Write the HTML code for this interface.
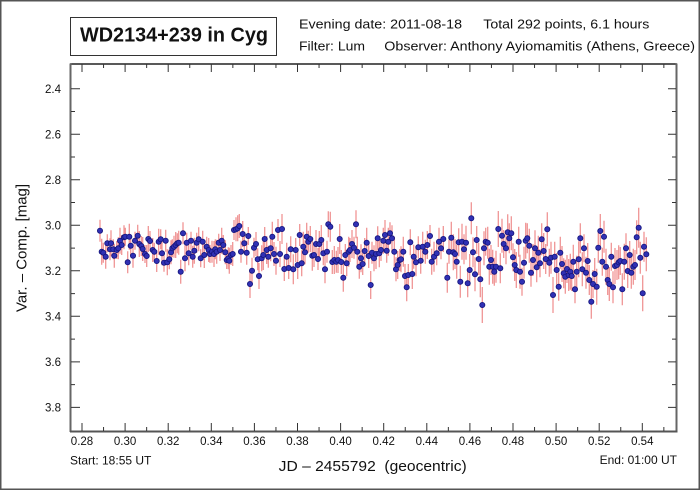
<!DOCTYPE html>
<html><head><meta charset="utf-8"><style>
html,body{margin:0;padding:0;background:#fff;}
svg{display:block;}
text{font-family:"Liberation Sans",Arial,sans-serif;fill:#111;}
</style></head><body>
<svg width="700" height="490" viewBox="0 0 700 490" xmlns="http://www.w3.org/2000/svg">
<rect x="0" y="0" width="700" height="490" fill="#fff"/>
<rect x="0.75" y="0.75" width="698.5" height="488.5" fill="none" stroke="#555" stroke-width="1.5"/>
<rect x="70.5" y="17.5" width="206" height="38" fill="none" stroke="#333" stroke-width="1"/>
<text x="80" y="41.7" font-size="20" font-weight="bold" textLength="188" lengthAdjust="spacingAndGlyphs">WD2134+239 in Cyg</text>
<text x="299" y="28.5" font-size="13" textLength="163" lengthAdjust="spacingAndGlyphs">Evening date: 2011-08-18</text>
<text x="483.3" y="28.5" font-size="13" textLength="166" lengthAdjust="spacingAndGlyphs">Total 292 points, 6.1 hours</text>
<text x="299" y="50.5" font-size="13" textLength="66" lengthAdjust="spacingAndGlyphs">Filter: Lum</text>
<text x="384.3" y="50.5" font-size="13" textLength="310.7" lengthAdjust="spacingAndGlyphs">Observer: Anthony Ayiomamitis (Athens, Greece)</text>

<path fill="none" stroke="#f09595" stroke-width="1.3" d="M100 219.7V241.7M101.7 238.7V264.7M103.3 242.7V262.7M105.7 244.7V268.7M107.3 234.3V252.3M110 238.3V260.3M111 230.3V256.3M113.3 239.3V259.3M114.3 243.7V267.7M116.7 241V259M118.3 237.3V259.3M120 227.7V253.7M121.7 235V255M124 225.3V249.3M125.3 227.7V245.7M127.7 251.3V273.3M129.3 223.7V249.7M130.7 235.7V255.7M133 243.7V267.7M135 231.7V249.7M137.7 224.7V246.7M139.3 231V257M141.3 236V256M142.7 237V261M145 245V263M146.7 245V267M148.3 226V252M150 231V251M152.7 238V262M154.3 242.7V260.7M156.7 250V272M158.7 228.7V254.7M160.7 229.3V249.3M162 241.3V265.3M164 253.7V271.7M165.7 229.7V251.7M167.3 249.3V275.3M169.3 249.3V269.3M171 240.3V264.3M172.3 239.3V257.3M174 235.7V257.7M175.7 232V258M177.3 233.3V253.3M178.7 230.7V254.7M180.7 259.7V283.7M183 222.3V244.3M185 245.3V271.3M186.7 232.7V252.7M188.7 241.3V265.3M191 231.7V249.7M192.7 245.7V267.7M194.3 237.7V263.7M196.7 232.7V252.7M198.7 227.3V251.3M200.7 249.3V267.3M202.7 230.7V252.7M204.3 242V268M206.7 236.7V256.7M208.7 238V262M210 245V263M212 240.7V262.7M214 241V267M215.3 239.3V259.3M216.7 239.7V263.7M218.7 233.7V251.7M220 239V261M221.7 227.7V253.7M223.3 235V255M225.3 240.3V264.3M226.7 251V269M228.3 247.3V269.3M229.3 247.7V273.7M231 245V265M232.7 242V266M234 220V240M236 217.3V241.3M237.7 215.3V241.3M239.3 214V238M241 240.7V262.7M242.7 221V247M244.3 233.3V253.3M246.7 240.7V264.7M248.3 227V245M250 270V298M252 257.7V283.7M254 237.7V257.7M256 232V256M257.7 248.3V270.3M259 263V289
M261.7 245.3V271.3M263.3 240V270M264.7 227V251M266.7 236V264M268.3 245.7V267.7M270.7 235.3V261.3M272.3 221.7V251.7M274 242V266M276 246.7V274.7M278 219V241M280 241V267M282 214V244M284.3 257V281M286.7 242.7V270.7M288.7 257V279M290.7 236.3V262.3M293.3 254.3V284.3M295.7 238V262M297.7 251V279M299.7 224V246M301.7 250.3V276.3M303.3 231.7V261.7M305 240.3V264.3M306.7 222.7V250.7M308.3 230.7V252.7M310.3 226V252M312.3 240.7V270.7M314 243V267M316 230V258M318 248V270M319.3 231V257M321.3 225V255M323.3 241.3V265.3M325 255.3V283.3M327 240.7V262.7M328.3 211.3V237.3M330.3 211.7V241.7M332.3 250V274M334.3 246V274M336.3 250.7V272.7M338 247V273M339.7 224V254M341.3 250V274M343.3 263.7V291.7M345.3 244V266M346.7 250.3V276.3M348.7 236.7V266.7M350 238V262M352 230V258M354 236.7V258.7M356 210.3V238.3M357.3 236.7V266.7M359.3 254.7V278.7M361 244.3V272.3M362.7 253V275M364.7 238V264M366.7 227.7V257.7M368.7 244V268M370.7 271V299M372 241.7V263.7M374 245.3V271.3M376 239V269M377.7 226.3V250.3M379.3 239.3V267.3M381 239V261M383.3 227.7V253.7M385 220V250M386.7 238.7V262.7M388.3 227.7V255.7M390 222.3V244.3M392 225.3V251.3M394.3 236.7V266.7M396 257.3V281.3M397.7 251V279M399.7 249V271M401 246.3V272.3M403.3 236.7V266.7M405 264V288M406.7 273.3V301.3M408.3 264V286M410.3 229.3V255.3M412.3 259V289M413.7 244.7V268.7M416 248.3V276.3M418.3 236.3V258.3M420.7 247.7V273.7M422.7 231.7V261.7M425.3 239.7V263.7M427.3 231V259M430 225V247M431.7 248.7V274.7M434 241.7V271.7M436.7 241.3V265.3M439 227.7V255.7M441 237.3V259.3M443.3 226V252M447.3 262.7V292.7M449 239.7V263.7
M451.3 221.7V253.7M453.3 234.3V270.3M455 239V269M456.7 244.7V278.7M458.7 228.3V256.3M460.3 265.7V297.7M462 223.7V259.7M464 234.3V264.3M466 225.7V259.7M467.7 269.3V297.3M469.7 254V286M471.3 202.3V234.3M473 237.3V267.3M475 257.3V291.3M476.7 226V254M478.7 243V275M480.3 261.3V297.3M482.3 287V323M484 231.3V265.3M485.7 227.7V255.7M487.7 226.7V258.7M489.3 248.7V284.7M491 245V275M492.7 249.7V283.7M494.3 257.7V285.7M496 250.7V282.7M498.3 211V247M500.3 253.3V283.3M502 218.7V252.7M503.7 230V258M506 232.3V264.3M507.7 214.3V250.3M509.3 223.3V253.3M511.3 216.3V250.3M513 243.3V271.3M514.7 249V281M516.3 252V288M518.7 226.7V256.7M520 254.7V288.7M522 267.7V295.7M524 246.7V278.7M525.7 222.7V258.7M527.3 223.3V253.3M529.3 228.7V262.7M531 258.7V286.7M533 244V276M535 230.3V266.3M536.7 252.3V282.3M538.3 235.7V269.7M540 249.3V277.3M541.7 223.3V255.3M543.7 233V269M545.7 244V274M547.3 212.3V246.3M549.3 248.7V276.7M551 241.7V273.7M553 277V313M554.7 241.7V271.7M556.7 253V287M558.7 272.7V300.7M560.3 236.7V268.7M562 246V282M563.7 258.3V288.3M565.3 259.7V293.7M567 255V283M568.7 259V291M570.3 253.7V289.7M571.7 261V291M573.3 244.7V278.7M575 275.3V303.3M576.7 255.7V287.7M578.7 241.3V277.3M580.3 223.3V253.3M582.3 252.3V286.3M584 234.3V262.3M586 256.7V288.7M587.7 243V279M589.3 265V295M591.3 284.7V318.7M593 270V298M594.7 258V290M596.7 268.7V304.7M598.3 232.7V262.7M600.3 214V248M602.3 247.7V275.7M604 220.7V252.7M606 248.7V284.7M607.7 265V295M609.3 267V301M611.3 242.7V270.7M613 271.3V303.3M615 248V284M617 250V280M618.7 245.3V279.3M620.3 247V275M622.3 273.3V305.3M624.3 243.7V279.7M626 233.3V263.3M627.7 254V288M629.7 241V269M631.3 256.7V288.7M633.3 248.7V284.7M635 250V280M636.7 220.3V254.3M638.7 207.7V247.7M640.3 241.7V273.7M642.7 275.3V311.3M644 231.7V261.7M646.3 237.3V271.3"/>

<g fill="#3030b4" stroke="#14147a" stroke-width="0.8">
<circle cx="100" cy="230.7" r="2.6"/><circle cx="101.7" cy="251.7" r="2.6"/><circle cx="103.3" cy="252.7" r="2.6"/><circle cx="105.7" cy="256.7" r="2.6"/><circle cx="107.3" cy="243.3" r="2.6"/><circle cx="110" cy="249.3" r="2.6"/><circle cx="111" cy="243.3" r="2.6"/><circle cx="113.3" cy="249.3" r="2.6"/><circle cx="114.3" cy="255.7" r="2.6"/><circle cx="116.7" cy="250" r="2.6"/><circle cx="118.3" cy="248.3" r="2.6"/><circle cx="120" cy="240.7" r="2.6"/><circle cx="121.7" cy="245" r="2.6"/><circle cx="124" cy="237.3" r="2.6"/><circle cx="125.3" cy="236.7" r="2.6"/><circle cx="127.7" cy="262.3" r="2.6"/><circle cx="129.3" cy="236.7" r="2.6"/><circle cx="130.7" cy="245.7" r="2.6"/><circle cx="133" cy="255.7" r="2.6"/><circle cx="135" cy="240.7" r="2.6"/><circle cx="137.7" cy="235.7" r="2.6"/><circle cx="139.3" cy="244" r="2.6"/><circle cx="141.3" cy="246" r="2.6"/><circle cx="142.7" cy="249" r="2.6"/><circle cx="145" cy="254" r="2.6"/><circle cx="146.7" cy="256" r="2.6"/><circle cx="148.3" cy="239" r="2.6"/><circle cx="150" cy="241" r="2.6"/><circle cx="152.7" cy="250" r="2.6"/><circle cx="154.3" cy="251.7" r="2.6"/><circle cx="156.7" cy="261" r="2.6"/><circle cx="158.7" cy="241.7" r="2.6"/><circle cx="160.7" cy="239.3" r="2.6"/><circle cx="162" cy="253.3" r="2.6"/><circle cx="164" cy="262.7" r="2.6"/><circle cx="165.7" cy="240.7" r="2.6"/><circle cx="167.3" cy="262.3" r="2.6"/><circle cx="169.3" cy="259.3" r="2.6"/><circle cx="171" cy="252.3" r="2.6"/><circle cx="172.3" cy="248.3" r="2.6"/><circle cx="174" cy="246.7" r="2.6"/><circle cx="175.7" cy="245" r="2.6"/><circle cx="177.3" cy="243.3" r="2.6"/><circle cx="178.7" cy="242.7" r="2.6"/><circle cx="180.7" cy="271.7" r="2.6"/><circle cx="183" cy="233.3" r="2.6"/><circle cx="185" cy="258.3" r="2.6"/><circle cx="186.7" cy="242.7" r="2.6"/><circle cx="188.7" cy="253.3" r="2.6"/><circle cx="191" cy="240.7" r="2.6"/><circle cx="192.7" cy="256.7" r="2.6"/><circle cx="194.3" cy="250.7" r="2.6"/><circle cx="196.7" cy="242.7" r="2.6"/><circle cx="198.7" cy="239.3" r="2.6"/><circle cx="200.7" cy="258.3" r="2.6"/><circle cx="202.7" cy="241.7" r="2.6"/><circle cx="204.3" cy="255" r="2.6"/><circle cx="206.7" cy="246.7" r="2.6"/><circle cx="208.7" cy="250" r="2.6"/><circle cx="210" cy="254" r="2.6"/><circle cx="212" cy="251.7" r="2.6"/><circle cx="214" cy="254" r="2.6"/><circle cx="215.3" cy="249.3" r="2.6"/><circle cx="216.7" cy="251.7" r="2.6"/><circle cx="218.7" cy="242.7" r="2.6"/><circle cx="220" cy="250" r="2.6"/><circle cx="221.7" cy="240.7" r="2.6"/><circle cx="223.3" cy="245" r="2.6"/><circle cx="225.3" cy="252.3" r="2.6"/><circle cx="226.7" cy="260" r="2.6"/><circle cx="228.3" cy="258.3" r="2.6"/><circle cx="229.3" cy="260.7" r="2.6"/><circle cx="231" cy="255" r="2.6"/><circle cx="232.7" cy="254" r="2.6"/><circle cx="234" cy="230" r="2.6"/><circle cx="236" cy="229.3" r="2.6"/><circle cx="237.7" cy="228.3" r="2.6"/><circle cx="239.3" cy="226" r="2.6"/><circle cx="241" cy="251.7" r="2.6"/><circle cx="242.7" cy="234" r="2.6"/><circle cx="244.3" cy="243.3" r="2.6"/><circle cx="246.7" cy="252.7" r="2.6"/><circle cx="248.3" cy="236" r="2.6"/><circle cx="250" cy="284" r="2.6"/><circle cx="252" cy="270.7" r="2.6"/><circle cx="254" cy="247.7" r="2.6"/><circle cx="256" cy="244" r="2.6"/><circle cx="257.7" cy="259.3" r="2.6"/><circle cx="259" cy="276" r="2.6"/>
<circle cx="261.7" cy="258.3" r="2.6"/><circle cx="263.3" cy="255" r="2.6"/><circle cx="264.7" cy="239" r="2.6"/><circle cx="266.7" cy="250" r="2.6"/><circle cx="268.3" cy="256.7" r="2.6"/><circle cx="270.7" cy="248.3" r="2.6"/><circle cx="272.3" cy="236.7" r="2.6"/><circle cx="274" cy="254" r="2.6"/><circle cx="276" cy="260.7" r="2.6"/><circle cx="278" cy="230" r="2.6"/><circle cx="280" cy="254" r="2.6"/><circle cx="282" cy="229" r="2.6"/><circle cx="284.3" cy="269" r="2.6"/><circle cx="286.7" cy="256.7" r="2.6"/><circle cx="288.7" cy="268" r="2.6"/><circle cx="290.7" cy="249.3" r="2.6"/><circle cx="293.3" cy="269.3" r="2.6"/><circle cx="295.7" cy="250" r="2.6"/><circle cx="297.7" cy="265" r="2.6"/><circle cx="299.7" cy="235" r="2.6"/><circle cx="301.7" cy="263.3" r="2.6"/><circle cx="303.3" cy="246.7" r="2.6"/><circle cx="305" cy="252.3" r="2.6"/><circle cx="306.7" cy="236.7" r="2.6"/><circle cx="308.3" cy="241.7" r="2.6"/><circle cx="310.3" cy="239" r="2.6"/><circle cx="312.3" cy="255.7" r="2.6"/><circle cx="314" cy="255" r="2.6"/><circle cx="316" cy="244" r="2.6"/><circle cx="318" cy="259" r="2.6"/><circle cx="319.3" cy="244" r="2.6"/><circle cx="321.3" cy="240" r="2.6"/><circle cx="323.3" cy="253.3" r="2.6"/><circle cx="325" cy="269.3" r="2.6"/><circle cx="327" cy="251.7" r="2.6"/><circle cx="328.3" cy="224.3" r="2.6"/><circle cx="330.3" cy="226.7" r="2.6"/><circle cx="332.3" cy="262" r="2.6"/><circle cx="334.3" cy="260" r="2.6"/><circle cx="336.3" cy="261.7" r="2.6"/><circle cx="338" cy="260" r="2.6"/><circle cx="339.7" cy="239" r="2.6"/><circle cx="341.3" cy="262" r="2.6"/><circle cx="343.3" cy="277.7" r="2.6"/><circle cx="345.3" cy="255" r="2.6"/><circle cx="346.7" cy="263.3" r="2.6"/><circle cx="348.7" cy="251.7" r="2.6"/><circle cx="350" cy="250" r="2.6"/><circle cx="352" cy="244" r="2.6"/><circle cx="354" cy="247.7" r="2.6"/><circle cx="356" cy="224.3" r="2.6"/><circle cx="357.3" cy="251.7" r="2.6"/><circle cx="359.3" cy="266.7" r="2.6"/><circle cx="361" cy="258.3" r="2.6"/><circle cx="362.7" cy="264" r="2.6"/><circle cx="364.7" cy="251" r="2.6"/><circle cx="366.7" cy="242.7" r="2.6"/><circle cx="368.7" cy="256" r="2.6"/><circle cx="370.7" cy="285" r="2.6"/><circle cx="372" cy="252.7" r="2.6"/><circle cx="374" cy="258.3" r="2.6"/><circle cx="376" cy="254" r="2.6"/><circle cx="377.7" cy="238.3" r="2.6"/><circle cx="379.3" cy="253.3" r="2.6"/><circle cx="381" cy="250" r="2.6"/><circle cx="383.3" cy="240.7" r="2.6"/><circle cx="385" cy="235" r="2.6"/><circle cx="386.7" cy="250.7" r="2.6"/><circle cx="388.3" cy="241.7" r="2.6"/><circle cx="390" cy="233.3" r="2.6"/><circle cx="392" cy="238.3" r="2.6"/><circle cx="394.3" cy="251.7" r="2.6"/><circle cx="396" cy="269.3" r="2.6"/><circle cx="397.7" cy="265" r="2.6"/><circle cx="399.7" cy="260" r="2.6"/><circle cx="401" cy="259.3" r="2.6"/><circle cx="403.3" cy="251.7" r="2.6"/><circle cx="405" cy="276" r="2.6"/><circle cx="406.7" cy="287.3" r="2.6"/><circle cx="408.3" cy="275" r="2.6"/><circle cx="410.3" cy="242.3" r="2.6"/><circle cx="412.3" cy="274" r="2.6"/><circle cx="413.7" cy="256.7" r="2.6"/><circle cx="416" cy="262.3" r="2.6"/><circle cx="418.3" cy="247.3" r="2.6"/><circle cx="420.7" cy="260.7" r="2.6"/><circle cx="422.7" cy="246.7" r="2.6"/><circle cx="425.3" cy="251.7" r="2.6"/><circle cx="427.3" cy="245" r="2.6"/><circle cx="430" cy="236" r="2.6"/><circle cx="431.7" cy="261.7" r="2.6"/><circle cx="434" cy="256.7" r="2.6"/><circle cx="436.7" cy="253.3" r="2.6"/><circle cx="439" cy="241.7" r="2.6"/><circle cx="441" cy="248.3" r="2.6"/><circle cx="443.3" cy="239" r="2.6"/><circle cx="447.3" cy="277.7" r="2.6"/><circle cx="449" cy="251.7" r="2.6"/>
<circle cx="451.3" cy="237.7" r="2.6"/><circle cx="453.3" cy="252.3" r="2.6"/><circle cx="455" cy="254" r="2.6"/><circle cx="456.7" cy="261.7" r="2.6"/><circle cx="458.7" cy="242.3" r="2.6"/><circle cx="460.3" cy="281.7" r="2.6"/><circle cx="462" cy="241.7" r="2.6"/><circle cx="464" cy="249.3" r="2.6"/><circle cx="466" cy="242.7" r="2.6"/><circle cx="467.7" cy="283.3" r="2.6"/><circle cx="469.7" cy="270" r="2.6"/><circle cx="471.3" cy="218.3" r="2.6"/><circle cx="473" cy="252.3" r="2.6"/><circle cx="475" cy="274.3" r="2.6"/><circle cx="476.7" cy="240" r="2.6"/><circle cx="478.7" cy="259" r="2.6"/><circle cx="480.3" cy="279.3" r="2.6"/><circle cx="482.3" cy="305" r="2.6"/><circle cx="484" cy="248.3" r="2.6"/><circle cx="485.7" cy="241.7" r="2.6"/><circle cx="487.7" cy="242.7" r="2.6"/><circle cx="489.3" cy="266.7" r="2.6"/><circle cx="491" cy="260" r="2.6"/><circle cx="492.7" cy="266.7" r="2.6"/><circle cx="494.3" cy="271.7" r="2.6"/><circle cx="496" cy="266.7" r="2.6"/><circle cx="498.3" cy="229" r="2.6"/><circle cx="500.3" cy="268.3" r="2.6"/><circle cx="502" cy="235.7" r="2.6"/><circle cx="503.7" cy="244" r="2.6"/><circle cx="506" cy="248.3" r="2.6"/><circle cx="507.7" cy="232.3" r="2.6"/><circle cx="509.3" cy="238.3" r="2.6"/><circle cx="511.3" cy="233.3" r="2.6"/><circle cx="513" cy="257.3" r="2.6"/><circle cx="514.7" cy="265" r="2.6"/><circle cx="516.3" cy="270" r="2.6"/><circle cx="518.7" cy="241.7" r="2.6"/><circle cx="520" cy="271.7" r="2.6"/><circle cx="522" cy="281.7" r="2.6"/><circle cx="524" cy="262.7" r="2.6"/><circle cx="525.7" cy="240.7" r="2.6"/><circle cx="527.3" cy="238.3" r="2.6"/><circle cx="529.3" cy="245.7" r="2.6"/><circle cx="531" cy="272.7" r="2.6"/><circle cx="533" cy="260" r="2.6"/><circle cx="535" cy="248.3" r="2.6"/><circle cx="536.7" cy="267.3" r="2.6"/><circle cx="538.3" cy="252.7" r="2.6"/><circle cx="540" cy="263.3" r="2.6"/><circle cx="541.7" cy="239.3" r="2.6"/><circle cx="543.7" cy="251" r="2.6"/><circle cx="545.7" cy="259" r="2.6"/><circle cx="547.3" cy="229.3" r="2.6"/><circle cx="549.3" cy="262.7" r="2.6"/><circle cx="551" cy="257.7" r="2.6"/><circle cx="553" cy="295" r="2.6"/><circle cx="554.7" cy="256.7" r="2.6"/><circle cx="556.7" cy="270" r="2.6"/><circle cx="558.7" cy="286.7" r="2.6"/><circle cx="560.3" cy="252.7" r="2.6"/><circle cx="562" cy="264" r="2.6"/><circle cx="563.7" cy="273.3" r="2.6"/><circle cx="565.3" cy="276.7" r="2.6"/><circle cx="567" cy="269" r="2.6"/><circle cx="568.7" cy="275" r="2.6"/><circle cx="570.3" cy="271.7" r="2.6"/><circle cx="571.7" cy="276" r="2.6"/><circle cx="573.3" cy="261.7" r="2.6"/><circle cx="575" cy="289.3" r="2.6"/><circle cx="576.7" cy="271.7" r="2.6"/><circle cx="578.7" cy="259.3" r="2.6"/><circle cx="580.3" cy="238.3" r="2.6"/><circle cx="582.3" cy="269.3" r="2.6"/><circle cx="584" cy="248.3" r="2.6"/><circle cx="586" cy="272.7" r="2.6"/><circle cx="587.7" cy="261" r="2.6"/><circle cx="589.3" cy="280" r="2.6"/><circle cx="591.3" cy="301.7" r="2.6"/><circle cx="593" cy="284" r="2.6"/><circle cx="594.7" cy="274" r="2.6"/><circle cx="596.7" cy="286.7" r="2.6"/><circle cx="598.3" cy="247.7" r="2.6"/><circle cx="600.3" cy="231" r="2.6"/><circle cx="602.3" cy="261.7" r="2.6"/><circle cx="604" cy="236.7" r="2.6"/><circle cx="606" cy="266.7" r="2.6"/><circle cx="607.7" cy="280" r="2.6"/><circle cx="609.3" cy="284" r="2.6"/><circle cx="611.3" cy="256.7" r="2.6"/><circle cx="613" cy="287.3" r="2.6"/><circle cx="615" cy="266" r="2.6"/><circle cx="617" cy="265" r="2.6"/><circle cx="618.7" cy="262.3" r="2.6"/><circle cx="620.3" cy="261" r="2.6"/><circle cx="622.3" cy="289.3" r="2.6"/><circle cx="624.3" cy="261.7" r="2.6"/><circle cx="626" cy="248.3" r="2.6"/><circle cx="627.7" cy="271" r="2.6"/><circle cx="629.7" cy="255" r="2.6"/><circle cx="631.3" cy="272.7" r="2.6"/><circle cx="633.3" cy="266.7" r="2.6"/><circle cx="635" cy="265" r="2.6"/><circle cx="636.7" cy="237.3" r="2.6"/><circle cx="638.7" cy="227.7" r="2.6"/><circle cx="640.3" cy="257.7" r="2.6"/><circle cx="642.7" cy="293.3" r="2.6"/><circle cx="644" cy="246.7" r="2.6"/><circle cx="646.3" cy="254.3" r="2.6"/>
</g>

<line x1="70" y1="64" x2="677" y2="64" stroke="#222" stroke-width="1.5"/>
<line x1="70.5" y1="63.5" x2="70.5" y2="432" stroke="#666" stroke-width="2"/>
<line x1="676.5" y1="63.5" x2="676.5" y2="432" stroke="#666" stroke-width="2"/>
<line x1="70" y1="431.5" x2="677.5" y2="431.5" stroke="#555" stroke-width="2"/>

<path stroke="#333" stroke-width="1" fill="none" d="
M82 64V72M125.1 64V72M168.2 64V72M211.3 64V72M254.4 64V72M297.5 64V72M340.6 64V72M383.7 64V72M426.8 64V72M469.9 64V72M513 64V72M556.1 64V72M599.2 64V72M642.3 64V72
M103.55 64V68M146.65 64V68M189.75 64V68M232.85 64V68M275.95 64V68M319.05 64V68M362.15 64V68M405.25 64V68M448.35 64V68M491.45 64V68M534.55 64V68M577.65 64V68M620.75 64V68M663.85 64V68
M82 431V423M125.1 431V423M168.2 431V423M211.3 431V423M254.4 431V423M297.5 431V423M340.6 431V423M383.7 431V423M426.8 431V423M469.9 431V423M513 431V423M556.1 431V423M599.2 431V423M642.3 431V423
M103.55 431V427M146.65 431V427M189.75 431V427M232.85 431V427M275.95 431V427M319.05 431V427M362.15 431V427M405.25 431V427M448.35 431V427M491.45 431V427M534.55 431V427M577.65 431V427M620.75 431V427M663.85 431V427
M71 88.7H80M71 134.2H80M71 179.8H80M71 225.3H80M71 270.8H80M71 316.3H80M71 361.9H80M71 407.4H80
M71 111.5H75M71 157H75M71 202.5H75M71 248.1H75M71 293.6H75M71 339.1H75M71 384.6H75
M676 88.7H668M676 134.2H668M676 179.8H668M676 225.3H668M676 270.8H668M676 316.3H668M676 361.9H668M676 407.4H668
M676 111.5H672M676 157H672M676 202.5H672M676 248.1H672M676 293.6H672M676 339.1H672M676 384.6H672
"/>

<g font-size="11.5" text-anchor="end" fill="#222">
<text x="61" y="92.8">2.4</text>
<text x="61" y="138.3">2.6</text>
<text x="61" y="183.9">2.8</text>
<text x="61" y="229.4">3.0</text>
<text x="61" y="274.9">3.2</text>
<text x="61" y="320.4">3.4</text>
<text x="61" y="366">3.6</text>
<text x="61" y="411.5">3.8</text>
</g>
<g font-size="11.5" text-anchor="middle" fill="#222">
<text x="82" y="445">0.28</text>
<text x="125.1" y="445">0.30</text>
<text x="168.2" y="445">0.32</text>
<text x="211.3" y="445">0.34</text>
<text x="254.4" y="445">0.36</text>
<text x="297.5" y="445">0.38</text>
<text x="340.6" y="445">0.40</text>
<text x="383.7" y="445">0.42</text>
<text x="426.8" y="445">0.44</text>
<text x="469.9" y="445">0.46</text>
<text x="513" y="445">0.48</text>
<text x="556.1" y="445">0.50</text>
<text x="599.2" y="445">0.52</text>
<text x="642.3" y="445">0.54</text>
</g>

<text x="70" y="464.5" font-size="12">Start: 18:55 UT</text>
<text x="677" y="464" font-size="12" text-anchor="end">End: 01:00 UT</text>
<text x="278.7" y="471" font-size="15" textLength="188" lengthAdjust="spacingAndGlyphs">JD – 2455792&#160; (geocentric)</text>
<text transform="translate(26.5,248) rotate(-90)" font-size="15" text-anchor="middle">Var. – Comp. [mag]</text>
</svg>
</body></html>
